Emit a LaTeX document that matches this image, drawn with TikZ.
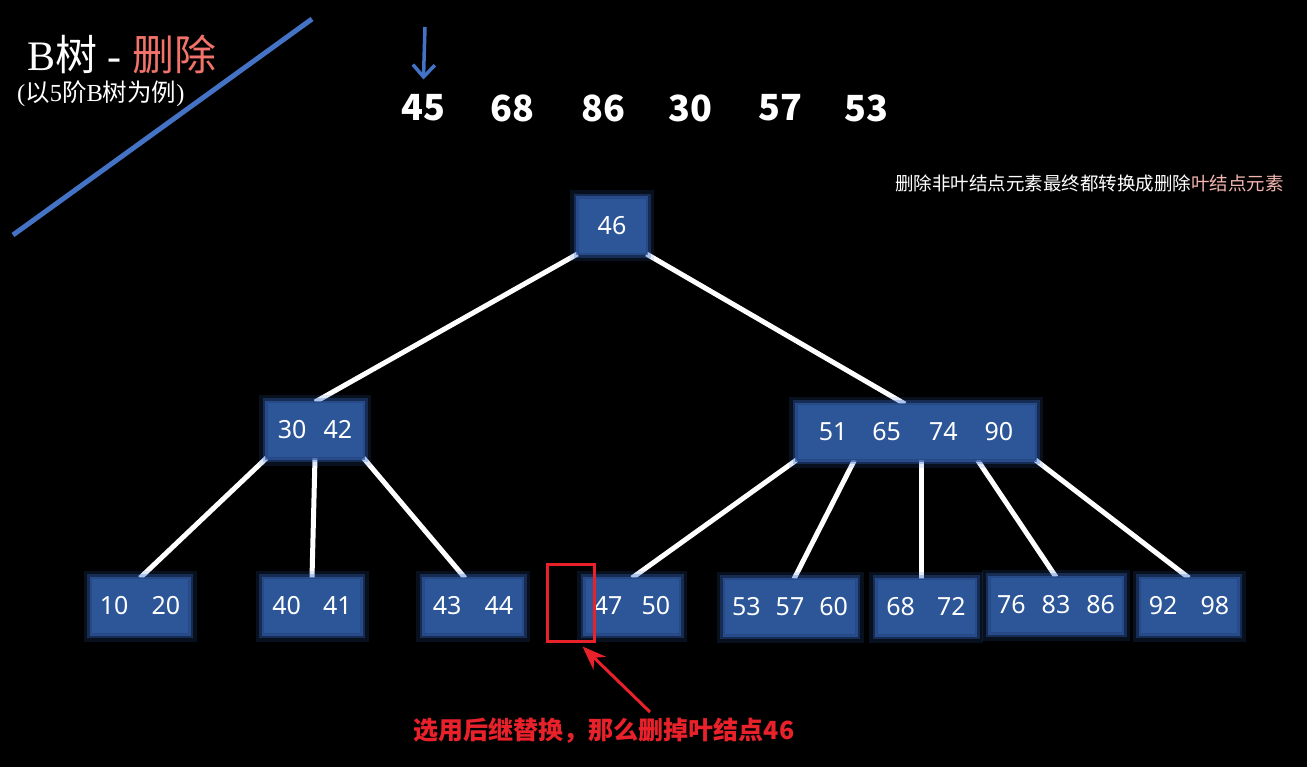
\documentclass[tikz,border=0pt]{standalone}
\usepackage{fontspec}
\setmainfont{Noto Sans}
\newfontfamily\cjk{Noto Sans CJK SC}
\newfontfamily\titlefont{Liberation Serif}
\usetikzlibrary{arrows.meta,calc,positioning}
\pgfdeclarelayer{canvas}
\pgfdeclarelayer{background}
\pgfsetlayers{canvas,background,main}

\definecolor{boxblue}{HTML}{2C5697}
\definecolor{glowblue}{HTML}{3A6FD0}
\definecolor{lineblue}{HTML}{4472C4}
\definecolor{titlered}{HTML}{F2736B}
\definecolor{notepink}{HTML}{F4B6B0}
\definecolor{markred}{HTML}{E8212B}

\tikzset{
  bnode/.style={fill=boxblue, draw=boxblue!85!black, line width=1pt, text=white,
    minimum height=55pt, minimum width=#1, inner sep=0pt,
    font=\fontsize{25}{30}\selectfont,
    preaction={draw=glowblue, line width=16pt, opacity=.15, rounded corners=4pt},
    preaction={draw=glowblue, line width=9pt, opacity=.3, rounded corners=2pt},
    preaction={draw=glowblue!80!black, line width=4pt, opacity=.7}},
  link/.style={draw=white, line width=5pt},
  seq/.style={text=white, inner sep=0pt, font=\cjk\bfseries\fontsize{36}{40}\selectfont},
}

\begin{document}
\begin{tikzpicture}[x=1pt,y=-1pt]
  \useasboundingbox (0,0) rectangle (1307,767);
  \begin{pgfonlayer}{canvas}
    \fill[black] (0,0) rectangle (1307,767);
  \end{pgfonlayer}

  % title corner
  \draw[lineblue, line width=5pt] (13,235) -- (312,19);
  \node[anchor=west, inner sep=0pt, text=white, font=\fontsize{42}{46}\selectfont] (title) at (27,54)
    {\titlefont B{\cjk 树} - {\cjk\color{titlered}删除}};
  \node[anchor=west, inner sep=0pt, text=white, font=\titlefont\fontsize{24.5}{27}\selectfont] (sub) at (17,94)
    {({\cjk 以}5{\cjk 阶}B{\cjk 树为例})};

  % insertion sequence
  \node[seq] (s1) at (423,108) {45};
  \node[seq] (s2) at (512,108) {68};
  \node[seq] (s3) at (603,108) {86};
  \node[seq] (s4) at (690,108) {30};
  \node[seq] (s5) at (780,108) {57};
  \node[seq] (s6) at (866,108) {53};
  \coordinate (pin) at (425,27);
  \draw[lineblue, line width=3.5pt, -{Straight Barb[length=12pt,width=22pt,line width=3.5pt]}, shorten >=15pt] (pin) -- (s1.north);

  \node[anchor=east, text=white, inner sep=0pt, font=\cjk\fontsize{18.5}{21}\selectfont] (rule) at (1284,183)
    {删除非叶结点元素最终都转换成删除\textcolor{notepink}{叶结点元素}};

  % the tree
  \node[bnode=68pt] (root) at (612,226) {46};
  \node[bnode=96pt] (n3042) at (315,430) {30\hspace{17pt}42};
  \node[bnode=238pt] (n5190) at (916,432) {51\hspace{25pt}65\hspace{28pt}74\hspace{27pt}90};

  \node[bnode=97pt] (l1020) at (140,606) {10\hspace{23pt}20};
  \node[bnode=97pt] (l4041) at (312,606) {40\hspace{22pt}41};
  \node[bnode=98pt] (l4344) at (473,606) {43\hspace{23pt}44};
  \node[bnode=94pt] (l4750) at (632,606) {47\hspace{19pt}50};
  \node[bnode=131pt] (l5360) at (790,607) {53\hspace{15pt}57\hspace{15pt}60};
  \node[bnode=98pt] (l6872) at (926,607) {68\hspace{22pt}72};
  \node[bnode=132pt] (l7686) at (1056,605) {76\hspace{16pt}83\hspace{16pt}86};
  \node[bnode=97pt] (l9298) at (1189,606) {92\hspace{23pt}98};

  \begin{pgfonlayer}{background}
    \draw[link] (root.south west) -- (n3042.north);
    \draw[link] (root.south east) -- ($(n5190.north)+(-11,0)$);
    \draw[link] (n3042.south west) -- (l1020.north);
    \draw[link] (n3042.south) -- (l4041.north);
    \draw[link] (n3042.south east) -- ($(l4344.north)+(-8,0)$);
    \draw[link] (n5190.south west) -- (l4750.north);
    \draw[link] ($(n5190.south west)+(58,0)$) -- ($(l5360.north)+(4,0)$);
    \draw[link] ($(n5190.south)+(5,0)$) -- ($(l6872.north)+(-5,0)$);
    \draw[link] ($(n5190.south east)+(-58,0)$) -- (l7686.north);
    \draw[link] (n5190.south east) -- (l9298.north);
  \end{pgfonlayer}

  % the removed key
  \node[draw=markred, line width=3pt, minimum width=47pt, minimum height=77pt, inner sep=0pt] (gap) at (570.5,602.5) {};
  \node[text=markred, inner sep=0pt, font=\cjk\bfseries\fontsize{25}{28}\selectfont] (hint) at (604,731)
    {选用后继替换，那么删掉叶结点46};
  \coordinate (tail) at (650,712);
  \draw[markred, line width=3pt, -{Stealth[length=24pt,width=18pt]}] (tail) -- ($(gap.south)+(12,4)$);
\end{tikzpicture}
\end{document}
